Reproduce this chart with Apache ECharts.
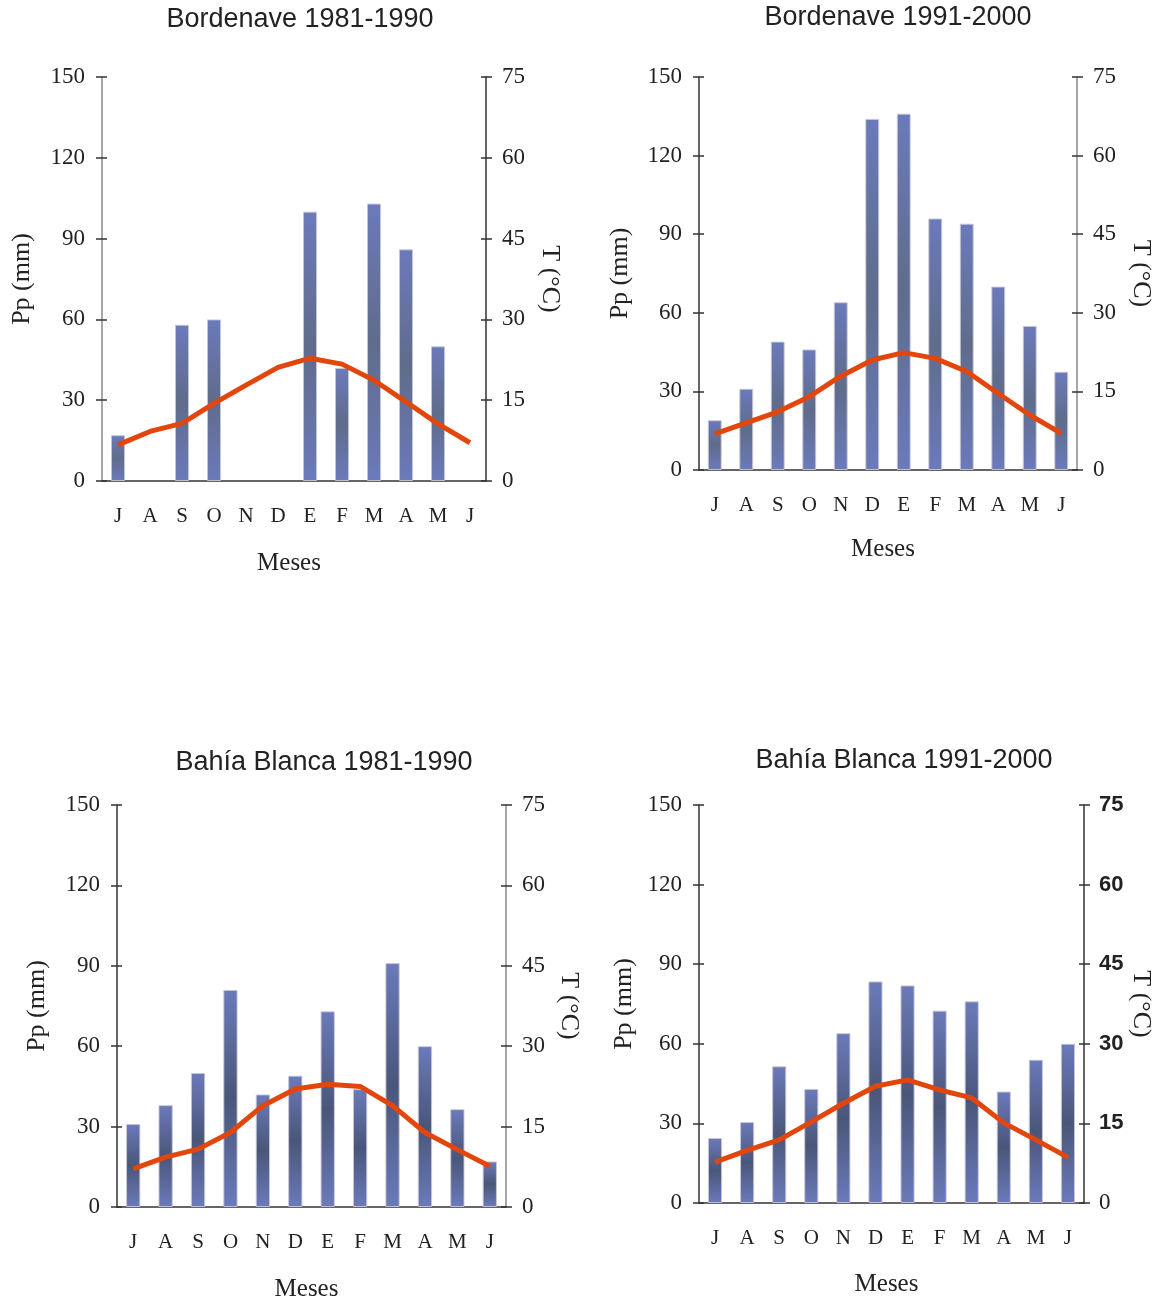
<!DOCTYPE html>
<html>
<head>
<meta charset="utf-8">
<script src="https://cdn.jsdelivr.net/npm/echarts@6/dist/echarts.min.js"></script>
<style>
  html, body { margin: 0; padding: 0; background: #fff; }
  #chart { width: 1164px; height: 1303px; }
</style>
</head>
<body>
<div id="chart"></div>
<script>
// Month labels, July to June
const months = ['J', 'A', 'S', 'O', 'N', 'D', 'E', 'F', 'M', 'A', 'M', 'J'];

// Precipitation (mm) and mean temperature (°C) per month
const bordenave8190Pp = [17, null, 58, 60, null, null, 100, 42, 103, 86, 50, null];
const bordenave8190T = [6.7, 9.2, 10.7, 14.4, 17.8, 21.1, 22.8, 21.7, 18.7, 14.7, 10.6, 7.1];

const bordenave9100Pp = [19, 31, 49, 46, 64, 134, 136, 96, 94, 70, 55, 37.5];
const bordenave9100T = [6.9, 9.0, 11.1, 14.0, 17.9, 21.0, 22.4, 21.3, 18.8, 14.6, 10.5, 7.0];

const bahia8190Pp = [31, 38, 50, 81, 42, 49, 73, 44, 91, 60, 36.5, 17];
const bahia8190T = [7.1, 9.3, 10.8, 13.9, 18.9, 22.0, 22.9, 22.5, 18.9, 13.9, 10.7, 7.6];

const bahia9100Pp = [24.5, 30.5, 51.5, 43, 64, 83.5, 82, 72.5, 76, 42, 54, 60];
const bahia9100T = [7.7, 9.9, 11.9, 15.3, 18.8, 22.0, 23.2, 21.3, 19.8, 15.1, 11.9, 8.6];

// Axis scales
const ppTicks = { min: 0, max: 150, interval: 30 };
const tTicks = { min: 0, max: 75, interval: 15 };

const SERIF = '"Liberation Serif", "Times New Roman", serif';
const SANS = '"Liberation Sans", Arial, sans-serif';
const INK = '#222';

const panels = [
  {
    title: 'Bordenave 1981-1990', pp: bordenave8190Pp, t: bordenave8190T,
    grid: { left: 102, top: 77, width: 384, height: 404 }, titleAt: [300, 20],
    ppGap: 67, tGap: 51, xGap: 70, leftLine: '#8a8a8a', rightLine: '#333',
    barMid: '#5f6c8b', boldRight: false
  },
  {
    title: 'Bordenave 1991-2000', pp: bordenave9100Pp, t: bordenave9100T,
    grid: { left: 699, top: 77, width: 378, height: 393 }, titleAt: [898, 18],
    ppGap: 66, tGap: 51, xGap: 67, leftLine: '#333', rightLine: '#8a8a8a',
    barMid: '#5f6c8b', boldRight: false
  },
  {
    title: 'Bahía Blanca 1981-1990', pp: bahia8190Pp, t: bahia8190T,
    grid: { left: 117, top: 805, width: 389, height: 402 }, titleAt: [324, 763],
    ppGap: 67, tGap: 50, xGap: 70, leftLine: '#333', rightLine: '#8a8a8a',
    barMid: '#4a5679', boldRight: false
  },
  {
    title: 'Bahía Blanca 1991-2000', pp: bahia9100Pp, t: bahia9100T,
    grid: { left: 699, top: 805, width: 385, height: 398 }, titleAt: [904, 761],
    ppGap: 62, tGap: 44, xGap: 69, leftLine: '#333', rightLine: '#333',
    barMid: '#4a5679', boldRight: true
  }
];

const grids = [], xAxes = [], yAxes = [], series = [], texts = [];

panels.forEach((p, i) => {
  grids.push(Object.assign({}, p.grid));

  texts.push({
    type: 'text', x: p.titleAt[0], y: p.titleAt[1],
    style: { text: p.title, font: '27px ' + SANS, fill: INK, textAlign: 'center', textVerticalAlign: 'middle' }
  });

  xAxes.push({
    gridIndex: i, type: 'category', data: months, boundaryGap: true,
    axisLine: { lineStyle: { color: '#333', width: 1.5 } },
    axisTick: { length: 7, lineStyle: { color: '#333', width: 1.5 } },
    axisLabel: { margin: 25, fontFamily: SERIF, fontSize: 21, color: INK },
    splitLine: { show: false },
    name: 'Meses', nameLocation: 'middle', nameGap: p.xGap,
    nameTextStyle: { fontFamily: SERIF, fontSize: 25, color: INK, padding: [0, 10, 0, 0] }
  });

  const base = yAxes.length;
  const tickStyle = { color: '#333', width: 1.5 };

  // precipitation axis (left)
  yAxes.push(Object.assign({
    gridIndex: i, type: 'value', position: 'left',
    axisLine: { show: true, lineStyle: { color: p.leftLine, width: 1.5 } },
    axisTick: { show: true, length: 6, lineStyle: tickStyle },
    axisLabel: { margin: 17, fontFamily: SERIF, fontSize: 23, color: INK },
    splitLine: { show: false },
    name: 'Pp (mm)', nameLocation: 'middle', nameGap: p.ppGap, nameRotate: 90,
    nameTextStyle: { fontFamily: SERIF, fontSize: 26, color: INK }
  }, ppTicks));
  // inner half of the crossing tick marks
  yAxes.push(Object.assign({
    gridIndex: i, type: 'value', position: 'left',
    axisLine: { show: false },
    axisTick: { show: true, inside: true, length: 5, lineStyle: tickStyle },
    axisLabel: { show: false }, splitLine: { show: false }
  }, ppTicks));

  // temperature axis (right)
  const rightLabel = p.boldRight
    ? {
        margin: 15, color: INK,
        formatter: v => v === 0 ? '{s|0}' : '{b|' + v + '}',
        rich: {
          s: { fontFamily: SERIF, fontSize: 23, color: INK },
          b: { fontFamily: SANS, fontWeight: 'bold', fontSize: 22, color: INK }
        }
      }
    : { margin: 16, fontFamily: SERIF, fontSize: 23, color: INK };
  yAxes.push(Object.assign({
    gridIndex: i, type: 'value', position: 'right',
    axisLine: { show: true, lineStyle: { color: p.rightLine, width: 1.5 } },
    axisTick: { show: true, length: 6, lineStyle: tickStyle },
    axisLabel: rightLabel,
    splitLine: { show: false },
    name: 'T (°C)', nameLocation: 'middle', nameGap: p.tGap, nameRotate: -90,
    nameTextStyle: { fontFamily: SERIF, fontSize: 26, color: INK }
  }, tTicks));
  yAxes.push(Object.assign({
    gridIndex: i, type: 'value', position: 'right',
    axisLine: { show: false },
    axisTick: { show: true, inside: true, length: 5, lineStyle: tickStyle },
    axisLabel: { show: false }, splitLine: { show: false }
  }, tTicks));

  series.push({
    type: 'bar', xAxisIndex: i, yAxisIndex: base, data: p.pp, barWidth: '44%',
    itemStyle: {
      color: {
        type: 'linear', x: 0, y: 0, x2: 0, y2: 1,
        colorStops: [
          { offset: 0, color: '#6b7abb' },
          { offset: 0.5, color: p.barMid },
          { offset: 1, color: '#6b7abb' }
        ]
      },
      borderColor: 'rgba(200,200,208,0.9)', borderWidth: 1
    },
    silent: true, z: 2
  });
  series.push({
    type: 'line', xAxisIndex: i, yAxisIndex: base + 2, data: p.t,
    symbol: 'none', lineStyle: { color: '#e3460c', width: 5 },
    silent: true, z: 5
  });
});

const chart = echarts.init(document.getElementById('chart'), null, { renderer: 'canvas' });
chart.setOption({
  backgroundColor: '#fff',
  animation: false,
  grid: grids,
  xAxis: xAxes,
  yAxis: yAxes,
  series: series,
  graphic: texts
});
</script>
</body>
</html>
